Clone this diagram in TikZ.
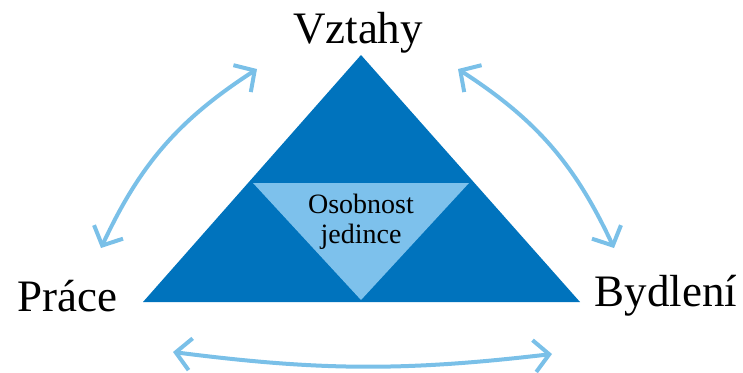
\documentclass[tikz,border=0pt]{standalone}
\usepackage[RGB]{xcolor}
\usepackage{fontspec}
\setmainfont{Liberation Serif}
\usetikzlibrary{arrows.meta}
\definecolor{outer}{RGB}{0,115,189}
\definecolor{inner}{RGB}{125,193,236}
\definecolor{link}{RGB}{122,192,232}
\newcommand{\biglabel}{\fontsize{45}{50}\selectfont}
\newcommand{\drawlink}{\draw[link,line width=4pt,{Straight Barb[length=15pt,width=32pt]}-{Straight Barb[length=15pt,width=32pt]}]}

\begin{document}
\begin{tikzpicture}[x=1pt,y=-1pt]
\useasboundingbox (0,0) rectangle (743,372);
\fill[outer] (361,55)--(580,302)--(143,302)--cycle;
    \fill[inner] (253,183)--(469,183)--(361,300)--cycle;
\node[align=center,font=\fontsize{28}{30}\selectfont] (core) at (361,222) {Osobnost\\jedince};
\node[font=\biglabel] (vztahy) at (358,33) {Vztahy};
    \node[font=\biglabel] (prace) at (67,296) {Práce};
    \node[font=\biglabel] (bydleni) at (666,296) {Bydlení};
\coordinate (a1) at (101,248);\coordinate (a2) at (257,69);
\coordinate (b1) at (458,69);\coordinate (b2) at (614,248);
\coordinate (c1) at (173,352);\coordinate (c2) at (552,354);
\drawlink (a1) to[bend left=16] (a2);
\drawlink (b1) to[bend left=16] (b2);
\drawlink (c1) to[bend right=7] (c2);
\end{tikzpicture}
\end{document}
